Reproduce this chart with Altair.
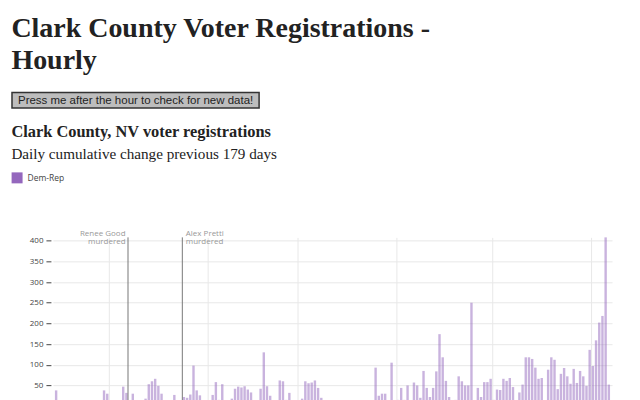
import altair as alt
import pandas as pd

# ---------------- text content ----------------
TITLE_LINES = ["Clark County Voter Registrations -", "Hourly"]
BUTTON_LABEL = "Press me after the hour to check for new data!"
CHART_TITLE = "Clark County, NV voter registrations"
CHART_SUBTITLE = "Daily cumulative change previous 179 days"
SERIES = "Dem-Rep"

# ---------------- data ----------------
START_DATE = "2025-12-15"
DAILY_CHANGE = [
    38, 8, 6, 10, 5, 7, 9, 4, 6, 8,
    5, 10, 7, 6, 9, 38, 30, 8, 6, 10,
    12, 47, 32, 10, 30, 8, 12, 10, 18, 53,
    60, 66, 49, 30, 8, 10, 12, 27, 12, 10,
    22, 20, 28, 98, 38, 26, 10, 8, 12, 27,
    58, 15, 53, 10, 12, 18, 42, 47, 45, 48,
    40, 33, 10, 12, 42, 130, 48, 25, 10, 12,
    62, 60, 15, 32, 12, 10, 12, 18, 60, 55,
    57, 62, 44, 20, 10, 8, 12, 6, 9, 11,
    7, 10, 8, 12, 9, 6, 10, 13, 8, 11,
    93, 25, 30, 30, 12, 105, 12, 15, 44, 15,
    50, 10, 57, 50, 20, 85, 44, 22, 44, 84,
    174, 118, 61, 22, 12, 15, 72, 60, 50, 50,
    250, 12, 44, 22, 58, 58, 66, 15, 40, 39,
    66, 61, 68, 46, 10, 33, 52, 118, 118, 114,
    93, 66, 68, 12, 88, 118, 112, 41, 78, 92,
    72, 54, 90, 56, 85, 72, 49, 136, 97, 159,
    202, 218, 408, 52,
]

EVENT_DATES = ["2026-01-07T00:00:00", "2026-01-24T00:00:00"]
EVENT_LABELS = ["Renee Good\nmurdered", "Alex Pretti\nmurdered"]
EVENT_SIDE = ["left", "right"]

MONTH_TICKS = [(2026, m) for m in range(1, 7)]
Y_TICKS = [50, 100, 150, 200, 250, 300, 350, 400]
Y_MAX = 408

# ---------------- tables ----------------
dates = pd.date_range(START_DATE, periods=len(DAILY_CHANGE), freq="D") + pd.Timedelta(hours=12)
bars_df = pd.DataFrame({
    "date": [d.strftime("%Y-%m-%dT%H:%M:%S") for d in dates],
    "value": DAILY_CHANGE,
    "series": SERIES,
})
events_df = pd.DataFrame({"date": EVENT_DATES, "label": EVENT_LABELS, "side": EVENT_SIDE})

x_scale = alt.Scale(domain=[alt.DateTime(year=2025, month=12, date=14, hours=12),
                            alt.DateTime(year=2026, month=6, date=7, hours=12)],
                    padding=0)
x_axis = alt.Axis(values=[alt.DateTime(year=y, month=m, date=1) for y, m in MONTH_TICKS],
                  grid=True, gridColor="#e8e8e8", domain=False, title=None,
                  labels=False, ticks=False)
y_axis = alt.Axis(values=Y_TICKS, grid=True, gridColor="#e8e8e8", domain=False,
                  title=None, tickSize=5, tickColor="#444", labelColor="#444",
                  labelFont="Open Sans", labelFontSize=8, labelPadding=3, offset=2)

bars = alt.Chart(bars_df).mark_bar(size=2.4, opacity=0.5).encode(
    x=alt.X("date:T", scale=x_scale, axis=x_axis),
    y=alt.Y("value:Q", scale=alt.Scale(domain=[0, Y_MAX], nice=False, padding=0), axis=y_axis),
    color=alt.Color("series:N",
                    scale=alt.Scale(domain=[SERIES], range=["#9467bd"]),
                    legend=alt.Legend(orient="none", legendX=-41.4, legendY=-65.1,
                                      title=None, symbolType="square", symbolSize=121,
                                      symbolOpacity=1, symbolStrokeWidth=0,
                                      labelFont="Open Sans", labelFontSize=8.5,
                                      labelColor="#444", labelOffset=5, padding=0)),
)

rules = alt.Chart(events_df).mark_rule(color="#777", strokeWidth=1).encode(x="date:T")

ann_left = alt.Chart(events_df).transform_filter(alt.datum.side == "left").mark_text(
    align="right", baseline="alphabetic", dx=-2.5, lineBreak="\n", lineHeight=8.5,
    font="Open Sans", fontSize=8, color="#999"
).encode(x="date:T", y=alt.value(-1.5), text="label:N")

ann_right = alt.Chart(events_df).transform_filter(alt.datum.side == "right").mark_text(
    align="left", baseline="alphabetic", dx=3.5, lineBreak="\n", lineHeight=8.5,
    font="Open Sans", fontSize=8, color="#999"
).encode(x="date:T", y=alt.value(-1.5), text="label:N")

# ---------------- page header ----------------
title = alt.Chart(pd.DataFrame({"t": ["\n".join(TITLE_LINES)]})).mark_text(
    align="left", baseline="alphabetic", font="Liberation Serif", fontSize=28,
    fontWeight="bold", color="#222", lineBreak="\n", lineHeight=32.3
).encode(x=alt.value(-41.6), y=alt.value(-200.7), text="t:N")

button_box = alt.Chart(pd.DataFrame({"t": [BUTTON_LABEL]})).mark_rect(
    fill="#bdbdbd", stroke="#333", strokeWidth=1.5
).encode(x=alt.value(-41), x2=alt.value(206.5), y=alt.value(-145), y2=alt.value(-129.5))

button_text = alt.Chart(pd.DataFrame({"t": [BUTTON_LABEL]})).mark_text(
    align="left", baseline="alphabetic", font="Liberation Sans", fontSize=11.5, color="#222"
).encode(x=alt.value(-35), y=alt.value(-133.2), text="t:N")

sub1 = alt.Chart(pd.DataFrame({"t": [CHART_TITLE]})).mark_text(
    align="left", baseline="alphabetic", font="Liberation Serif", fontSize=16.4,
    fontWeight="bold", color="#222"
).encode(x=alt.value(-41.6), y=alt.value(-100.7), text="t:N")

sub2 = alt.Chart(pd.DataFrame({"t": [CHART_SUBTITLE]})).mark_text(
    align="left", baseline="alphabetic", font="Liberation Serif", fontSize=15.2,
    color="#222"
).encode(x=alt.value(-41.6), y=alt.value(-78.1), text="t:N")

chart = alt.layer(
    bars, rules, ann_left, ann_right, title, button_box, button_text, sub1, sub2
).properties(
    width=560, height=169,
    autosize=alt.AutoSizeParams(type="none"),
    padding={"left": 45, "top": 229.4, "right": 20, "bottom": 30},
).configure_view(strokeWidth=0)

chart.save("out.html", embed_options={"renderer": "svg", "actions": False})
